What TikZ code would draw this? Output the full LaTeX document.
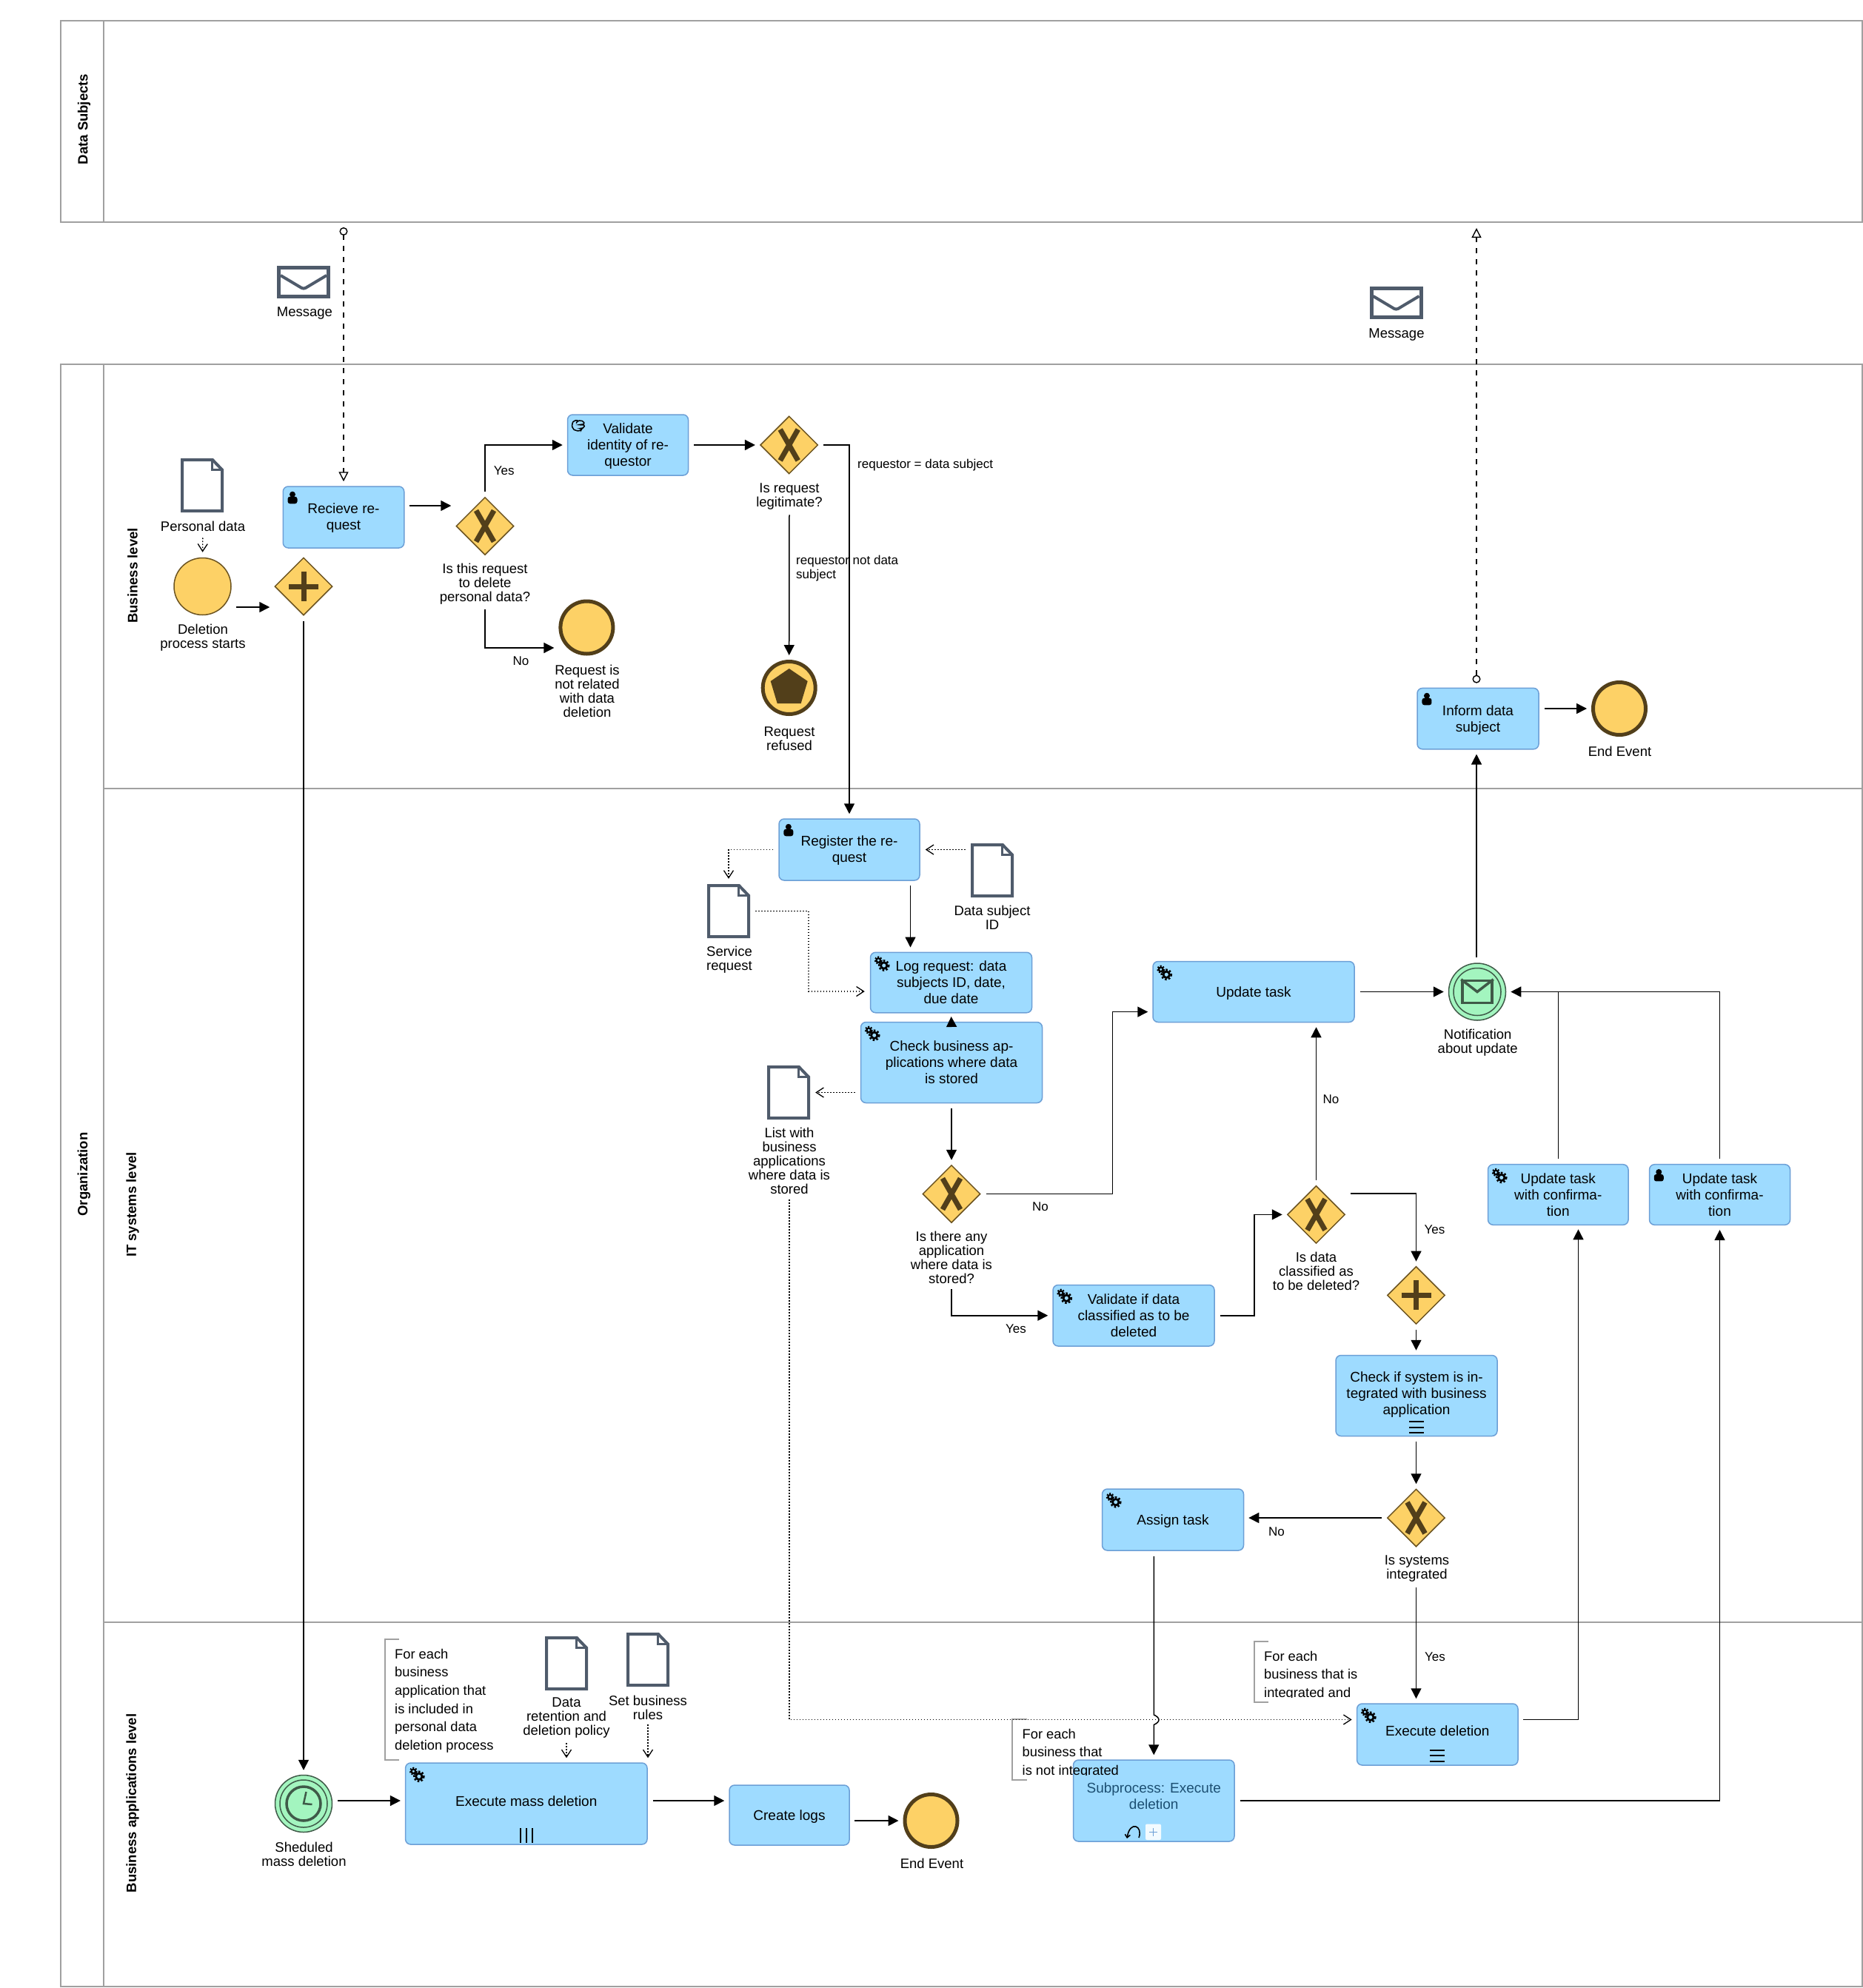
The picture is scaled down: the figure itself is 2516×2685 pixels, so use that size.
\documentclass[tikz,border=0pt]{standalone}
\usepackage{fontspec}
\setmainfont{Liberation Sans}
\usetikzlibrary{arrows.meta,shapes.geometric}
\definecolor{taskfill}{HTML}{9EDBFF}
\definecolor{taskline}{HTML}{6C9FD6}
\definecolor{gatefill}{HTML}{FDD166}
\definecolor{gateline}{HTML}{6B5320}
\definecolor{gatemark}{HTML}{523F1A}
\definecolor{greenfill}{HTML}{A3F5BF}
\definecolor{greenline}{HTML}{3F5A48}
\definecolor{docline}{HTML}{4F5B6B}
\definecolor{laneline}{HTML}{A0A0A0}
\definecolor{subtext}{HTML}{1C4F72}
\begin{document}
\begin{tikzpicture}[x=1pt, y=-1pt, >={Triangle[length=14pt,width=14pt]}]
            \tikzset{
                lane/.style = {draw=laneline, line width=2pt},
                lanetitle/.style = {rotate=90, inner sep=0pt, font=\fontsize{18.5}{21}\selectfont\bfseries},
                task/.style = {shape=rectangle, draw=taskline, fill=taskfill, line width=1.5pt, rounded corners=7pt, align=center, inner sep=0pt, text depth=0pt, font=\fontsize{19}{22}\selectfont},
                lift/.style = {text depth=#1},
                gateway/.style = {shape=diamond, aspect=1, draw=gateline, fill=gatefill, line width=1.5pt, minimum size=78pt, inner sep=0pt},
                startev/.style = {shape=circle, draw=gateline, fill=gatefill, line width=1.5pt, minimum size=77pt, inner sep=0pt},
                endev/.style = {shape=circle, draw=gatemark, fill=gatefill, line width=5pt, minimum size=71pt, inner sep=0pt},
                midev/.style = {shape=circle, draw=greenline, fill=greenfill, line width=1.5pt, minimum size=77pt, inner sep=0pt},
                docbox/.style = {shape=rectangle, minimum width=58pt, minimum height=73pt, inner sep=0pt},
                msgbox/.style = {shape=rectangle, draw=docline, line width=5pt, minimum width=67pt, minimum height=39pt, inner sep=0pt},
                lbl/.style = {align=center, inner sep=0pt, font=\fontsize{18.5}{19}\selectfont},
                flowlbl/.style = {align=left, inner sep=0pt, font=\fontsize{17}{19}\selectfont},
                anno/.style = {align=left, inner sep=0pt, font=\fontsize{18.3}{24.6}\selectfont},
                bracket/.style = {draw=laneline, line width=1.5pt},
                flow/.style = {->, line width=1.5pt, shorten <=7pt, shorten >=6pt},
                plainflow/.style = {line width=1.5pt, shorten <=7pt},
                datalink/.style = {-{Straight Barb[length=10pt,width=13pt,line width=1.3pt]}, line width=1.3pt, dash pattern=on 1.6pt off 2.4pt, shorten <=7pt, shorten >=7pt},
                msgflow/.style = {{Circle[open,length=11pt,width=11pt,line width=1.4pt]}-{Triangle[open,length=13pt,width=13pt,line width=1.4pt]}, line width=1.2pt, dash pattern=on 7pt off 8pt},
                markline/.style = {black, line width=1.6pt},
                xmark/.pic = {\draw[gatemark, line width=7pt] (-12,-21) -- (12,21) (12,-21) -- (-12,21);},
                plusmark/.pic = {\draw[gatemark, line width=7pt] (-20,0) -- (20,0) (0,-20) -- (0,20);},
                docicon/.pic = {\draw[docline, fill=white, line width=4pt, line join=miter] (-27,-34.5) -- (14,-34.5) -- (27,-21) -- (27,34.5) -- (-27,34.5) -- cycle;
                    \draw[docline, line width=3pt] (13.5,-34.5) -- (13.5,-21) -- (27,-21);},
                flap/.pic = {\draw[docline, line width=4pt, rounded corners=3pt] (-31,-9) -- (0,9.5) -- (31,-9);},
                gearicon/.pic = {
                    \draw[black, line width=2.8pt] (3,3) circle (4.2);
                    \draw[black, line width=2.4pt, dash pattern=on 2.5pt off 2.5pt] (3,3) circle (6.6);
                    \draw[black, line width=2.2pt] (-4.5,-4) circle (2.8);
                    \draw[black, line width=2pt, dash pattern=on 2pt off 2pt] (-4.5,-4) circle (4.6);},
                personicon/.pic = {\fill[black] (0,-4.5) circle (4);
                    \fill[black, rounded corners=3pt] (-6.5,8) rectangle (6.5,-1.5);},
                handicon/.pic = {\draw[black, line width=1.5pt, rounded corners=2pt] (-1,-7) -- (-6,-7) -- (-9,-2) -- (-8,4) -- (-4,7) -- (3,7) -- (5,4) -- (1,4) -- (8,3) -- (8,-1) -- (0,-1) -- (8,-2) -- (7,-6) -- (-1,-7) -- (-3,-3);},
                seqmark/.pic = {\draw[markline] (-10,-7.5) -- (10,-7.5) (-10,0) -- (10,0) (-10,7.5) -- (10,7.5);},
                parmark/.pic = {\draw[markline] (-8,-10) -- (-8,10) (0,-10) -- (0,10) (8,-10) -- (8,10);},
                clockicon/.pic = {\draw[greenline, line width=3.5pt] (0,0) circle (23);
                    \draw[greenline, line width=2.5pt] (3.5,-16) -- (0,0) -- (11.5,1);},
                pentaicon/.pic = {\fill[gatemark] (0,-26) -- (25,-9) -- (16,21) -- (-16,21) -- (-25,-9) -- cycle;},
            }
            \useasboundingbox (0,0) rectangle (2516,2685);

            % pools and lanes
            \draw[lane] (82,28) rectangle (2514.5,300);
            \draw[lane] (140,28) -- (140,300);
            \draw[lane] (82,492) rectangle (2514.5,2683);
            \draw[lane] (140,492) -- (140,2683);
            \draw[lane] (140,1065) -- (2514.5,1065);
            \draw[lane] (140,2191) -- (2514.5,2191);
            \node[lanetitle] (tds) at (113.5,161) {Data Subjects};
            \node[lanetitle] (torg) at (113.5,1586) {Organization};
            \node[lanetitle] (tbus) at (179,777.5) {Business level};
            \node[lanetitle] (tit) at (179,1627) {IT systems level};
            \node[lanetitle] (tapp) at (179,2435.5) {Business applications level};

            % messages
            \node[msgbox] (msga) at (410,381) {};
            \pic at (msga) {flap};
            \node[lbl] (msgalbl) at (411.5,423.5) {Message};
            \node[msgbox] (msgb) at (1885.5,409) {};
            \pic at (msgb) {flap};
            \node[lbl] (msgblbl) at (1886,452) {Message};
            \coordinate (msgin) at (464,307);
            \coordinate (msgout) at (1994,308);

            % business level
            \node[docbox] (perdoc) at (273,655.5) {};
            \pic at (perdoc) {docicon};
            \node[lbl] (perlbl) at (274,710.5) {Personal data};
            \node[startev] (start) at (273.5,792) {};
            \node[lbl] (startlbl) at (274,861) {Deletion\\process starts};
            \node[gateway] (gwstart) at (410,792) {};
            \pic at (gwstart) {plusmark};
            \node[task, lift=1.5pt, minimum width=163.5pt, minimum height=83pt] (recieve) at (464,698.5) {Recieve re-\\quest};
            \pic at ([xshift=13.5pt,yshift=-16pt]recieve.north west) {personicon};
            \node[gateway] (gwdel) at (655,710.5) {};
            \pic at (gwdel) {xmark};
            \node[lbl] (gwdellbl) at (655,788.5) {Is this request\\to delete\\personal data?};
            \node[endev] (endrel) at (792.4,847.5) {};
            \node[lbl] (endrellbl) at (793,933.5) {Request is\\not related\\with data\\deletion};
            \node[task, minimum width=163pt, minimum height=82pt] (validate) at (848,601) {Validate\\identity of re-\\questor};
            \pic at ([xshift=15.5pt,yshift=-15.5pt]validate.north west) {handicon};
            \node[gateway] (gwvalid) at (1065.7,601) {};
            \pic at (gwvalid) {xmark};
            \node[lbl] (gwvalidlbl) at (1066,670.5) {Is request\\legitimate?};
            \node[endev] (endref) at (1065.7,929) {};
            \pic at (endref) {pentaicon};
            \node[lbl] (endreflbl) at (1066,997.5) {Request\\refused};
            \node[task, minimum width=164pt, minimum height=82.4pt] (inform) at (1996,970.6) {Inform data\\subject};
            \pic at ([xshift=13.7pt,yshift=-15.6pt]inform.north west) {personicon};
            \node[endev] (endinf) at (2187,957) {};
            \node[lbl] (endinflbl) at (2187.5,1015) {End Event};

            % IT systems level
            \node[task, lift=1.5pt, minimum width=190pt, minimum height=83pt] (register) at (1147,1147.5) {Register the re-\\quest};
            \pic at ([xshift=13.6pt,yshift=-16pt]register.north west) {personicon};
            \node[docbox] (dsid) at (1340,1175.5) {};
            \pic at (dsid) {docicon};
            \node[lbl] (dsidlbl) at (1340,1239.5) {Data subject\\ID};
            \node[docbox] (service) at (984,1230.5) {};
            \pic at (service) {docicon};
            \node[lbl] (servicelbl) at (985,1296) {Service\\request};
            \node[task, minimum width=218pt, minimum height=81.5pt] (logreq) at (1284.5,1327) {Log request: data\\subjects ID, date,\\due date};
            \pic at ([xshift=16pt,yshift=-15.5pt]logreq.north west) {gearicon};
            \node[task, minimum width=245pt, minimum height=109pt] (check) at (1285,1435) {Check business ap-\\plications where data\\is stored};
            \pic at ([xshift=16pt,yshift=-15.5pt]check.north west) {gearicon};
            \node[docbox] (listdoc) at (1065,1475.5) {};
            \pic at (listdoc) {docicon};
            \node[lbl] (listlbl) at (1066,1568) {List with\\business\\applications\\where data is\\stored};
            \node[gateway] (gwany) at (1285,1612.5) {};
            \pic at (gwany) {xmark};
            \node[lbl] (gwanylbl) at (1285,1698.5) {Is there any\\application\\where data is\\stored?};
            \node[task, minimum width=272pt, minimum height=82pt] (update) at (1693,1339.5) {Update task};
            \pic at ([xshift=16pt,yshift=-15.5pt]update.north west) {gearicon};
            \node[midev] (notif) at (1995,1339.5) {};
            \draw[midev, fill=none] (notif) circle (32);
            \node[shape=rectangle, draw=greenline, line width=3.5pt, minimum width=40pt, minimum height=30pt, inner sep=0pt] (notifenv) at (1995,1339.5) {};
            \draw[greenline, line width=3.5pt] (notifenv.north west) -- (notifenv.center) -- (notifenv.north east);
            \node[lbl] (notiflbl) at (1995.7,1408.5) {Notification\\about update};
            \node[task, minimum width=218pt, minimum height=82.5pt] (valdata) at (1531,1776.75) {Validate if data\\classified as to be\\deleted};
            \pic at ([xshift=16pt,yshift=-15.5pt]valdata.north west) {gearicon};
            \node[gateway] (gwclass) at (1777.5,1640.4) {};
            \pic at (gwclass) {xmark};
            \node[lbl] (gwclasslbl) at (1777.5,1717) {Is data\\classified as\\to be deleted?};
            \node[task, minimum width=189.5pt, minimum height=81.6pt] (updatea) at (2104.25,1613.5) {Update task\\with confirma-\\tion};
            \pic at ([xshift=16pt,yshift=-15.5pt]updatea.north west) {gearicon};
            \node[task, minimum width=190pt, minimum height=81.6pt] (updateb) at (2322.5,1613.5) {Update task\\with confirma-\\tion};
            \pic at ([xshift=13.5pt,yshift=-15.5pt]updateb.north west) {personicon};
            \node[gateway] (gwpar) at (1912.5,1749.4) {};
            \pic at (gwpar) {plusmark};
            \node[task, lift=6pt, minimum width=218pt, minimum height=109pt] (checkif) at (1913,1885) {Check if system is in-\\tegrated with business\\application};
            \pic at ([yshift=12.5pt]checkif.south) {seqmark};
            \node[gateway] (gwint) at (1912.5,2050) {};
            \pic at (gwint) {xmark};
            \node[lbl] (gwintlbl) at (1913.5,2119) {Is systems\\integrated};
            \node[task, minimum width=191pt, minimum height=83pt] (assign) at (1584,2052.5) {Assign task};
            \pic at ([xshift=16pt,yshift=-15.5pt]assign.north west) {gearicon};

            % business applications level
            \node[midev] (timer) at (410,2436) {};
            \draw[midev, fill=none] (timer) circle (32);
            \pic at (timer) {clockicon};
            \node[lbl] (timerlbl) at (410.5,2504) {Sheduled\\mass deletion};
            \node[task, lift=6pt, minimum width=326.4pt, minimum height=110pt] (mass) at (710.8,2436) {Execute mass deletion};
            \pic at ([xshift=16pt,yshift=-16pt]mass.north west) {gearicon};
            \pic at ([yshift=13pt]mass.south) {parmark};
            \draw[bracket] (539,2214) -| (520,2377) -- (539,2377);
            \node[anno, anchor=west] (annomass) at (533,2297) {For each\\business\\application that\\is included in\\personal data\\deletion process};
            \node[docbox] (retdoc) at (765,2246.5) {};
            \pic at (retdoc) {docicon};
            \node[lbl] (retlbl) at (765,2320.5) {Data\\retention and\\deletion policy};
            \node[docbox] (setdoc) at (875,2241.5) {};
            \pic at (setdoc) {docicon};
            \node[lbl] (setlbl) at (875,2306.5) {Set business\\rules};
            \node[task, minimum width=162pt, minimum height=81pt] (logs) at (1066,2451.5) {Create logs};
            \node[endev] (endlogs) at (1257.5,2459) {};
            \node[lbl] (endlogslbl) at (1258.5,2517) {End Event};
            \node[task, lift=13pt, text=subtext, minimum width=217.5pt, minimum height=110pt] (subproc) at (1558.25,2432) {Subprocess: Execute\\deletion};
            \draw[black, line width=1.6pt, -{Straight Barb[length=4pt,width=7pt]}] (1538,2482) .. controls (1544,2466) and (1526,2458) .. (1522,2483);
            \draw[draw=none, fill=white!88!taskfill, rounded corners=2pt] (1547,2463.5) rectangle (1568,2485);
            \draw[taskline, line width=1.2pt] (1552,2474.5) -- (1563,2474.5) (1557.5,2469) -- (1557.5,2480);
            \begin{scope}
                \clip (1367,2322) rectangle (1640,2397.5);
                \node[anno, anchor=west] (annonot) at (1380.5,2368) {For each\\business that\\is not integrated};
            \end{scope}
            \draw[bracket] (1387,2322) -| (1367,2404) -- (1387,2404);
            \begin{scope}
                \clip (1694,2217) rectangle (1900,2292.5);
                \node[anno, anchor=west] (annoint) at (1707,2263) {For each\\business that is\\integrated and};
            \end{scope}
            \draw[bracket] (1713,2217) -| (1694,2299) -- (1713,2299);
            \node[task, lift=9pt, minimum width=217.4pt, minimum height=83pt] (exec) at (1941.3,2342.5) {Execute deletion};
            \pic at ([xshift=16pt,yshift=-16pt]exec.north west) {gearicon};
            \pic at ([yshift=13.5pt]exec.south) {seqmark};

            % message flows
            \draw[msgflow, shorten >=6pt] (msgin) -- (recieve.north);
            \draw[msgflow, shorten <=6pt] (msgout |- inform.north) -- (msgout);

            % data links
            \draw[datalink, shorten <=9pt] (perlbl.south) -- (start.north);
            \draw[datalink] (dsid.west |- register.east) -- (register.east);
            \draw[datalink] (register.west) -| (service.north);
            \coordinate (srvbend) at (1092,1339);
            \draw[datalink] (service.east) -| (srvbend) -- (srvbend -| logreq.west);
            \draw[datalink] (check.west |- listdoc.east) -- (listdoc.east);
            \coordinate (execin) at (1832.6,2322.5);
            \draw[datalink] (listlbl.south) |- (execin);
            \draw[datalink, shorten <=6pt, shorten >=6pt] (retlbl.south) -- (retlbl.south |- mass.north);
            \draw[datalink, shorten <=6pt, shorten >=6pt] (setlbl.south) -- (setlbl.south |- mass.north);

            % sequence flows
            \coordinate (startout) at (312,820);
            \draw[flow] (startout) -- (startout -| gwstart.west);
            \draw[flow] (gwstart.south) -- (timer.north);
            \coordinate (recvout) at (545.5,683);
            \draw[flow] (recvout) -- (recvout -| gwdel.west);
            \draw[flow] (gwdel.north) |- node[flowlbl, pos=0.25, anchor=west, xshift=11pt] (yesdel) {Yes} (validate.west);
            \draw[flow] (gwdellbl.south) |- ([yshift=-27.5pt]endrel.west);
            \node[flowlbl] (nodel) at (703.5,893) {No};
            \draw[flow] (validate.east) -- (gwvalid.west);
            \draw[flow] (gwvalid.east) -| (register.north);
            \node[flowlbl, anchor=west] (reqsame) at (1158,628) {requestor = data subject};
            \draw[flow] (gwvalidlbl.south) -- (endref.north);
            \node[flowlbl, anchor=west] (reqnot) at (1075,767.5) {requestor not data\\subject};
            \draw[flow] (inform.east |- endinf.west) -- (endinf.west);
            \coordinate (regout) at (1229.5,1189);
            \draw[flow] (regout) -- (regout |- logreq.north);
            \draw[->, line width=1.5pt, shorten >=4.5pt] ([yshift=-5pt]check.north) -- (logreq.south);
            \draw[flow] (check.south) -- (gwany.north);
            \coordinate (updin) at (1502.7,1366.6);
            \draw[flow] (gwany.east) -| (updin) -- (updin -| update.west);
            \node[flowlbl] (noany) at (1405,1630) {No};
            \draw[flow] (gwanylbl.south) |- (valdata.west);
            \node[flowlbl] (yesany) at (1372,1795) {Yes};
            \coordinate (clsbend) at (1694,1640.4);
            \draw[flow] (valdata.east) -| (clsbend) -- (gwclass.west);
            \draw[flow] (gwclass.north) -- (gwclass.north |- update.south);
            \node[flowlbl] (nocls) at (1797.5,1485) {No};
            \coordinate (clsout) at (1816.5,1612);
            \draw[flow] (clsout) -| (gwpar.north);
            \node[flowlbl] (yescls) at (1937.5,1661) {Yes};
            \draw[flow] (gwpar.south) -- (gwpar.south |- checkif.north);
            \draw[flow] (gwint.north |- checkif.south) -- (gwint.north);
            \draw[flow] (gwint.west) -- (gwint.west -| assign.east);
            \node[flowlbl] (noint) at (1724,2068.5) {No};
            \draw[flow] (gwint.south |- gwintlbl.south) -- (gwint.south |- exec.north);
            \node[flowlbl] (yesint) at (1938,2238) {Yes};
            \coordinate (jumpa) at (1558.25,2316);
            \coordinate (jumpb) at (1558.25,2329.5);
            \draw[flow] (subproc.north |- assign.south) -- (jumpa) .. controls +(9,4) and +(9,-4) .. (jumpb) -- (subproc.north);
            \coordinate (timerout) at (449,2432);
            \draw[flow] (timerout) -- (timerout -| mass.west);
            \coordinate (massout) at (874.5,2432);
            \draw[flow] (massout) -- (massout -| logs.west);
            \coordinate (logsout) at (1147,2459);
            \draw[flow] (logsout) -- (logsout -| endlogs.west);
            \coordinate (execout) at (2050,2322.5);
            \coordinate (updain) at (2131.5,1654.3);
            \draw[flow] (execout) -| (updain);
            \draw[flow] (subproc.east) -| (updateb.south);
            \draw[plainflow] (updatea.north) -- (updatea.north |- notif.east);
            \draw[flow] (updateb.north) |- (notif.east);
            \draw[flow] (update.east) -- (notif.west);
            \draw[flow] (msgout |- notif.north) -- (msgout |- inform.south);
        \end{tikzpicture}
\end{document}
